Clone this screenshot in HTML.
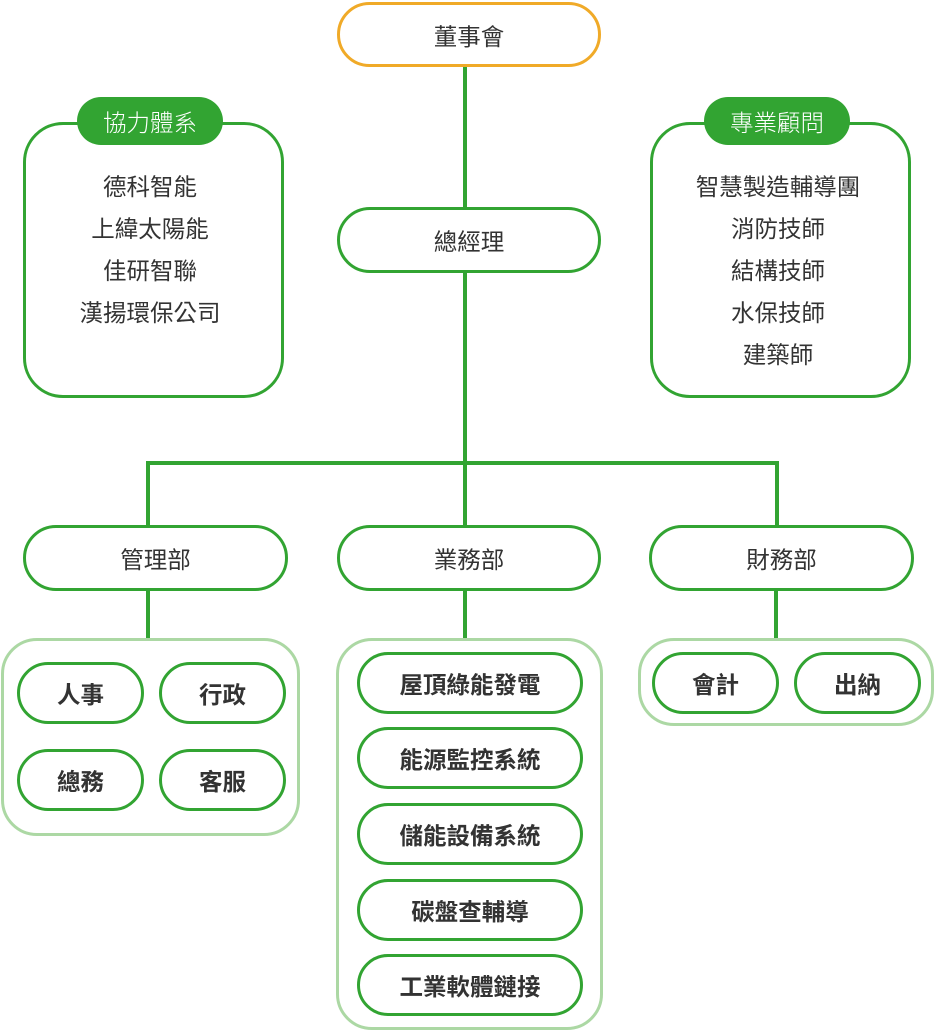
<!DOCTYPE html>
<html><head><meta charset="utf-8"><style>
*{box-sizing:border-box;margin:0;padding:0}
body{width:935px;height:1031px;background:#fff;position:relative;overflow:hidden;font-family:"Liberation Sans","Noto Sans CJK TC",sans-serif;color:#333}
.p{position:absolute;border:3px solid #32a432;border-radius:40px;background:#fff;display:flex;align-items:center;justify-content:center;font-size:23.5px}
.b{font-weight:bold}
.g{position:absolute;border:3px solid #acd8a4;border-radius:36px}
.l{position:absolute;background:#32a432}
.box{position:absolute;border:3px solid #32a432;border-radius:40px;background:#fff}
.tab{position:absolute;background:#32a432;color:#fff;border-radius:24px;font-size:23.5px;font-weight:300;display:flex;align-items:center;justify-content:center}
.it{position:absolute;width:260px;text-align:center;font-size:23.5px;line-height:42px}
</style></head><body>
<div class="l" style="left:463px;top:64px;width:4px;height:145px"></div>
<div class="l" style="left:463px;top:270px;width:4px;height:257px"></div>
<div class="l" style="left:146px;top:461px;width:633px;height:4px"></div>
<div class="l" style="left:146px;top:461px;width:4px;height:66px"></div>
<div class="l" style="left:775px;top:461px;width:4px;height:66px"></div>
<div class="l" style="left:146px;top:588px;width:4px;height:52px"></div>
<div class="l" style="left:463px;top:588px;width:4px;height:52px"></div>
<div class="l" style="left:774px;top:588px;width:4px;height:52px"></div>

<div class="p" style="left:337px;top:2px;width:264px;height:65px;border-color:#f0aa28">董事會</div>
<div class="p" style="left:337px;top:207px;width:264px;height:66px">總經理</div>

<div class="box" style="left:23px;top:122px;width:261px;height:276px"></div>
<div class="tab" style="left:77px;top:97px;width:146px;height:48px">協力體系</div>
<div class="it" style="left:20px;top:166px">德科智能<br>上緯太陽能<br>佳研智聯<br>漢揚環保公司</div>

<div class="box" style="left:650px;top:122px;width:261px;height:276px"></div>
<div class="tab" style="left:704px;top:97px;width:146px;height:48px">專業顧問</div>
<div class="it" style="left:648px;top:166px">智慧製造輔導團<br>消防技師<br>結構技師<br>水保技師<br>建築師</div>

<div class="p" style="left:23px;top:525px;width:265px;height:66px">管理部</div>
<div class="p" style="left:337px;top:525px;width:264px;height:66px">業務部</div>
<div class="p" style="left:649px;top:525px;width:265px;height:66px">財務部</div>

<div class="g" style="left:1px;top:638px;width:299px;height:198px"></div>
<div class="g" style="left:336px;top:638px;width:267px;height:392px"></div>
<div class="g" style="left:638px;top:638px;width:296px;height:88px"></div>

<div class="p b" style="left:17px;top:662px;width:127px;height:62px">人事</div>
<div class="p b" style="left:159px;top:662px;width:127px;height:62px">行政</div>
<div class="p b" style="left:17px;top:749px;width:127px;height:62px">總務</div>
<div class="p b" style="left:159px;top:749px;width:127px;height:62px">客服</div>

<div class="p b" style="left:357px;top:652px;width:226px;height:62px">屋頂綠能發電</div>
<div class="p b" style="left:357px;top:727px;width:226px;height:62px">能源監控系統</div>
<div class="p b" style="left:357px;top:803px;width:226px;height:62px">儲能設備系統</div>
<div class="p b" style="left:357px;top:879px;width:226px;height:62px">碳盤查輔導</div>
<div class="p b" style="left:357px;top:954px;width:226px;height:62px">工業軟體鏈接</div>

<div class="p b" style="left:652px;top:652px;width:127px;height:62px">會計</div>
<div class="p b" style="left:794px;top:652px;width:127px;height:62px">出納</div>
</body></html>
